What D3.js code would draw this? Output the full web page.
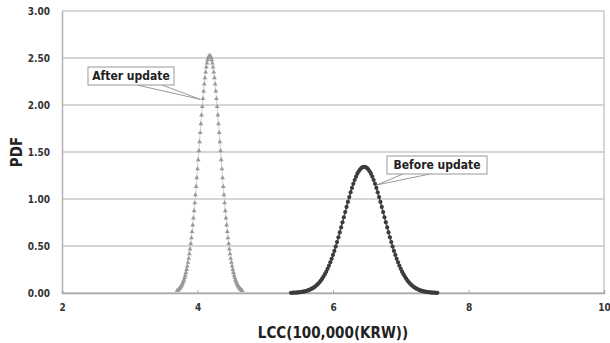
<!DOCTYPE html>
<html lang="en">
<head>
<meta charset="UTF-8">
<title>LCC PDF</title>
<style>
  body { margin: 0; background: #fff; }
  svg text { font-family: "DejaVu Sans Condensed", "Liberation Sans Narrow", "Liberation Sans", sans-serif; }
</style>
</head>
<body>
<svg id="chart"></svg>
<script src="https://d3js.org/d3.v7.min.js"></script>
<script>
// values
const afterX = [3.70,3.71,3.72,3.73,3.74,3.75,3.76,3.77,3.78,3.79,3.80,3.81,3.82,3.83,3.84,3.85,3.86,3.87,3.88,3.89,
  3.90,3.91,3.92,3.93,3.94,3.95,3.96,3.97,3.98,3.99,4.00,4.01,4.02,4.03,4.04,4.05,4.06,4.07,4.08,4.09,
  4.10,4.11,4.12,4.13,4.14,4.15,4.16,4.17,4.18,4.19,4.20,4.21,4.22,4.23,4.24,4.25,4.26,4.27,4.28,4.29,
  4.30,4.31,4.32,4.33,4.34,4.35,4.36,4.37,4.38,4.39,4.40,4.41,4.42,4.43,4.44,4.45,4.46,4.47,4.48,4.49,
  4.50,4.51,4.52,4.53,4.54,4.55,4.56,4.57,4.58,4.59,4.60,4.61,4.62,4.63,4.64,4.65,4.66];
const afterY = [0.025,0.030,0.036,0.044,0.052,0.062,0.074,0.087,0.102,0.120,0.140,0.163,0.188,0.217,0.249,0.285,
  0.325,0.368,0.416,0.468,0.525,0.586,0.652,0.722,0.797,0.875,0.958,1.044,1.133,1.225,1.320,1.416,
  1.512,1.609,1.705,1.800,1.893,1.982,2.067,2.147,2.221,2.289,2.349,2.402,2.445,2.480,2.505,2.520,
  2.525,
  2.520,2.505,2.480,2.445,2.402,2.349,2.289,2.221,2.147,2.067,1.982,1.893,1.800,1.705,1.609,1.512,
  1.416,1.320,1.225,1.133,1.044,0.958,0.875,0.797,0.722,0.652,0.586,0.525,0.468,0.416,0.368,0.325,
  0.285,0.249,0.217,0.188,0.163,0.140,0.120,0.102,0.087,0.074,0.062,0.052,0.044,0.036,0.030,0.025];

const beforeX = [5.38,5.40,5.42,5.44,5.46,5.48,5.50,5.52,5.54,5.56,5.58,5.60,5.62,5.64,5.66,5.68,5.70,5.72,5.74,5.76,
  5.78,5.80,5.82,5.84,5.86,5.88,5.90,5.92,5.94,5.96,5.98,6.00,6.02,6.04,6.06,6.08,6.10,6.12,6.14,6.16,
  6.18,6.20,6.22,6.24,6.26,6.28,6.30,6.32,6.34,6.36,6.38,6.40,6.42,6.44,6.46,6.48,6.50,6.52,6.54,6.56,
  6.58,6.60,6.62,6.64,6.66,6.68,6.70,6.72,6.74,6.76,6.78,6.80,6.82,6.84,6.86,6.88,6.90,6.92,6.94,6.96,
  6.98,7.00,7.02,7.04,7.06,7.08,7.10,7.12,7.14,7.16,7.18,7.20,7.22,7.24,7.26,7.28,7.30,7.32,7.34,7.36,
  7.38,7.40,7.42,7.44,7.46,7.48,7.50,7.52,7.54];
const beforeY = [0.002,0.002,0.003,0.004,0.005,0.006,0.007,0.009,0.011,0.014,0.017,0.020,0.025,0.030,0.036,0.043,
  0.051,0.060,0.071,0.084,0.098,0.114,0.132,0.152,0.175,0.200,0.227,0.257,0.290,0.326,0.364,0.405,
  0.448,0.494,0.542,0.592,0.644,0.698,0.752,0.806,0.861,0.916,0.969,1.021,1.071,1.118,1.162,1.202,
  1.238,1.269,1.295,1.316,1.331,1.340,
  1.343,
  1.340,1.331,1.316,1.295,1.269,1.238,1.202,1.162,1.118,1.071,1.021,0.969,0.916,0.861,0.806,0.752,
  0.698,0.644,0.592,0.542,0.494,0.448,0.405,0.364,0.326,0.290,0.257,0.227,0.200,0.175,0.152,0.132,
  0.114,0.098,0.084,0.071,0.060,0.051,0.043,0.036,0.030,0.025,0.020,0.017,0.014,0.011,0.009,0.007,
  0.006,0.005,0.004,0.003,0.002,0.002];

const xTicks = [2, 4, 6, 8, 10];
const yTicks = [0, 0.5, 1, 1.5, 2, 2.5, 3];

const width = 610, height = 343;
const margin = { top: 11, right: 6, bottom: 50, left: 62 };
const w = width - margin.left - margin.right;
const h = height - margin.top - margin.bottom;

const svg = d3.select('#chart').attr('width', width).attr('height', height);
const g = svg.append('g').attr('transform', `translate(${margin.left},${margin.top})`);

const x = d3.scaleLinear().domain([2, 10]).range([0, w]);
const y = d3.scaleLinear().domain([0, 3]).range([h, 0]);

// gridlines
g.append('g')
  .selectAll('line')
  .data(yTicks)
  .join('line')
  .attr('x1', 0).attr('x2', w)
  .attr('y1', d => y(d)).attr('y2', d => y(d))
  .attr('stroke', '#c8c8c8').attr('stroke-width', 1.5);

// right side of the frame
g.append('line').attr('x1', w).attr('x2', w).attr('y1', 0).attr('y2', h)
  .attr('stroke', '#c8c8c8').attr('stroke-width', 1.5);

const yAxis = g.append('g')
  .call(d3.axisLeft(y).tickValues(yTicks).tickFormat(d3.format('.2f')).tickSize(0).tickPadding(12));
yAxis.select('.domain').attr('stroke', '#b0b0b0').attr('stroke-width', 1.5);
yAxis.selectAll('text').attr('font-size', 10).attr('fill', '#333').attr('font-weight', 'bold');

const xAxis = g.append('g')
  .attr('transform', `translate(0,${h})`)
  .call(d3.axisBottom(x).tickValues(xTicks).tickSize(-3).tickPadding(11));
xAxis.select('.domain').attr('stroke', '#a8a8a8').attr('stroke-width', 1.5);
xAxis.selectAll('.tick line').attr('stroke', '#a8a8a8');
xAxis.selectAll('text').attr('font-size', 10).attr('fill', '#333').attr('font-weight', 'bold');

// series
const after = afterX.map((v, i) => [v, afterY[i]]);
const before = beforeX.map((v, i) => [v, beforeY[i]]);

const line = d3.line().x(d => x(d[0])).y(d => y(d[1]));

g.append('path').datum(after).attr('d', line)
  .attr('fill', 'none').attr('stroke', '#c4c4c4').attr('stroke-width', 0.8);

g.append('g')
  .selectAll('path')
  .data(after)
  .join('path')
  .attr('d', d3.symbol(d3.symbolTriangle, 10))
  .attr('transform', d => `translate(${x(d[0])},${y(d[1])})`)
  .attr('fill', '#999');

g.append('path').datum(before).attr('d', line)
  .attr('fill', 'none').attr('stroke', '#555').attr('stroke-width', 1.5);

g.append('g')
  .selectAll('circle')
  .data(before)
  .join('circle')
  .attr('cx', d => x(d[0]))
  .attr('cy', d => y(d[1]))
  .attr('r', 2.1)
  .attr('fill', '#3c3c3c');

// callouts
function callout(text, bx, by, bw, tip, base1, base2) {
  const c = g.append('g');
  c.append('path')
    .attr('d', `M${base1[0]},${base1[1]}L${x(tip[0])},${y(tip[1])}L${base2[0]},${base2[1]}`)
    .attr('fill', 'none').attr('stroke', '#999').attr('stroke-width', 1);
  c.append('rect')
    .attr('x', bx).attr('y', by).attr('width', bw).attr('height', 18)
    .attr('fill', '#fff').attr('stroke', '#999').attr('stroke-width', 1);
  c.append('text')
    .attr('x', bx + bw / 2).attr('y', by + 13)
    .attr('text-anchor', 'middle')
    .attr('font-size', 12).attr('font-weight', 'bold').attr('fill', '#222')
    .text(text);
}
callout('After update', 26, 56, 86, [4.04, 2.06], [75, 74], [100, 74]);
callout('Before update', 325, 145, 100, [6.65, 1.15], [341, 163], [368, 163]);

// axis titles
svg.append('text')
  .attr('transform', 'translate(22,152) rotate(-90)')
  .attr('text-anchor', 'middle')
  .attr('font-size', 15).attr('font-weight', 'bold').attr('fill', '#222')
  .text('PDF');

svg.append('text')
  .attr('x', margin.left + w / 2).attr('y', 338)
  .attr('text-anchor', 'middle')
  .attr('font-size', 15).attr('font-weight', 'bold').attr('fill', '#222')
  .text('LCC(100,000(KRW))');
</script>
</body>
</html>
